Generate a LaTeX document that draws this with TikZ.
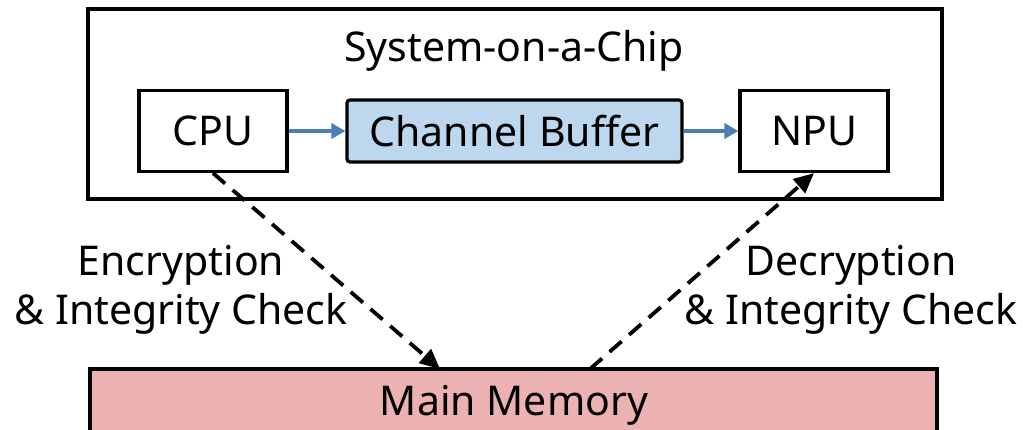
\documentclass[tikz,border=0pt]{standalone}
\usepackage{fontspec}
\setmainfont{Noto Sans}
\usetikzlibrary{arrows.meta}
\definecolor{bufblue}{RGB}{189,215,238}
\definecolor{mempink}{RGB}{236,178,177}
\definecolor{linkblue}{RGB}{74,126,187}
\tikzset{
  x=1pt, y=-1pt,
  box/.style={draw=black, line width=3.2pt, inner sep=0pt},
  lbl/.style={font=\fontsize{41}{49}\selectfont, align=center, inner sep=0pt},
  flow/.style={draw=linkblue, line width=3.5pt, -{Triangle[length=14pt,width=15pt]}},
  dataflow/.style={line width=3.8pt, dash pattern=on 16pt off 10pt, -{Triangle[length=20pt,width=18pt]}}
}
\begin{document}
\begin{tikzpicture}
\useasboundingbox (0,0) rectangle (1028,429);
% system-on-a-chip frame
\node[box, minimum width=854pt, minimum height=190pt] (soc) at (515,104) {};
\node[lbl] (soctitle) at (514,51) {System-on-a-Chip};
% processors and shared buffer
\node[box, minimum width=148pt, minimum height=81pt, lbl] (cpu) at (213,131) {CPU};
\node[box, minimum width=148pt, minimum height=81pt, lbl] (npu) at (814,131) {NPU};
\node[box, rounded corners=3pt, fill=bufblue, minimum width=335pt, minimum height=62pt, lbl] (buf) at (514.5,131) {Channel Buffer};
% main memory (runs off the lower edge)
\node[box, fill=mempink, minimum width=847pt, minimum height=80pt] (mem) at (513.5,409) {};
\node[lbl] (memtitle) at (514,405) {Main Memory};
% on-chip transfers
\draw[flow] (cpu.east) -- (buf.west);
\draw[flow] (buf.east) -- (npu.west);
% off-chip transfers
\coordinate (memin) at (440,369);
\coordinate (memout) at (590,369);
\draw[dataflow] (cpu.south) -- (memin);
\draw[dataflow] (memout) -- (npu.south);
\node[lbl] (enc) at (181,290) {Encryption\\\& Integrity Check};
\node[lbl] (dec) at (851,290) {Decryption\\\& Integrity Check};
\end{tikzpicture}
\end{document}
